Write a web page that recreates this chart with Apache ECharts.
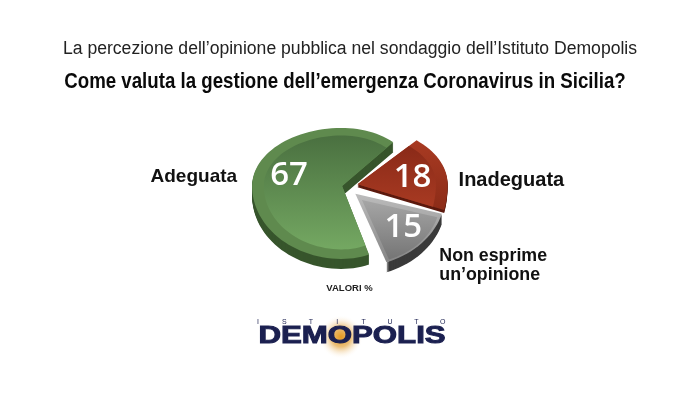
<!doctype html>
<html>
<head>
<meta charset="utf-8">
<title>Demopolis</title>
<style>html,body{margin:0;background:#fff}#main{width:700px;height:394px}</style>
</head>
<body>
<div id="main"></div>
<script src="https://cdn.jsdelivr.net/npm/echarts@6/dist/echarts.min.js"></script>
<script>
var categories = ['Inadeguata', 'Non esprime\nun\u2019opinione', 'Adeguata'];
var values = [18, 15, 67];
var subtitle = 'La percezione dell\u2019opinione pubblica nel sondaggio dell\u2019Istituto Demopolis';
var question = 'Come valuta la gestione dell\u2019emergenza Coronavirus in Sicilia?';
var unitNote = 'VALORI %';
var logoTop = ['I', 'S', 'T', 'I', 'T', 'U', 'T', 'O'];
var logoName = 'DEMOPOLIS';

// look of each slice, same order as categories
var sliceStyles = [
    {rim: '#a83a22', rimLow: '#8c2c18', top: '#8a2a18', bottom: '#a83a22', wall: '#5c1a0e', explode: 10, inset: 0,
        right: 90, down: 95, depth: 3, cutWall: true, num: [55, -7], label: [101, -4], align: 'left', labelSize: 20},
    {rim: '#bcbcbc', rimLow: '#858585', top: '#a6a6a6', bottom: '#757575', wall: '#3a3a3a', explode: 10, inset: 9,
        right: 90, down: 73, depth: 10, cutWall: false, num: [48, 34], label: [84, 72], align: 'left', labelSize: 17.8},
    {rim: '#5f8a4e', rimLow: '#5f8a4e', top: '#4a7040', bottom: '#74a862', wall: '#37552c', explode: 6, inset: 0,
        right: 78, down: 73, depth: 10, cutWall: true, num: [-53, -10], label: [-105, -9], align: 'right', labelSize: 19}
];
var center = [348, 187];
var radiusLeft = 90, radiusUp = 58;
var startDeg = -49;

function wedge(apex, from, to, scale, dy, st, withApex) {
    var pts = withApex ? [[apex[0], apex[1] + dy]] : [];
    var n = Math.ceil((to - from) / 3);
    for (var i = 0; i <= n; i++) {
        var a = (from + (to - from) * i / n) * Math.PI / 180;
        var c = Math.cos(a), s = Math.sin(a);
        pts.push([apex[0] + (c > 0 ? st.right : radiusLeft) * scale * c,
                  apex[1] + (s < 0 ? radiusUp : st.down) * scale * s + dy]);
    }
    return pts;
}

function vertical(a, b) {
    return {type: 'linear', x: 0, y: 0, x2: 0, y2: 1, colorStops: [{offset: 0, color: a}, {offset: 1, color: b}]};
}

function renderSlice(params, api) {
    var total = values.reduce(function (a, b) { return a + b; }, 0);
    var before = 0;
    for (var i = 0; i < params.dataIndex; i++) {
        before += values[i];
    }
    var value = api.value(0);
    var from = startDeg + before / total * 360;
    var to = from + value / total * 360;
    var mid = (from + to) / 2 * Math.PI / 180;
    var st = sliceStyles[params.dataIndex];
    var apex = [center[0] + st.explode * Math.cos(mid), center[1] + st.explode * Math.sin(mid)];
    var innerApex = [apex[0] + st.inset * Math.cos(mid), apex[1] + st.inset * Math.sin(mid)];
    var children = [];

    // wall: top face pushed down, every step so the cut edges fill in
    for (var d = st.depth; d > 0; d -= 1) {
        children.push({type: 'polygon', shape: {points: wedge(apex, from, to, 1, d, st, st.cutWall)}, style: {fill: st.wall}});
    }
    children.push({type: 'polygon', shape: {points: wedge(apex, from, to, 1, 0, st, true)}, style: {fill: vertical(st.rim, st.rimLow)}});
    children.push({
        type: 'polygon',
        shape: {points: wedge(innerApex, from, to, 0.87, 0, st, true)},
        style: {fill: vertical(st.top, st.bottom)}
    });
    children.push({
        type: 'text',
        style: {
            x: apex[0] + st.num[0], y: apex[1] + st.num[1], text: String(value),
            fill: '#fff', font: '600 33px "Open Sans"', align: 'center', verticalAlign: 'middle',
            shadowColor: 'rgba(0,0,0,0.7)', shadowBlur: 3, shadowOffsetX: 1, shadowOffsetY: 1
        }
    });
    children.push({
        type: 'text',
        style: {
            x: apex[0] + st.label[0], y: apex[1] + st.label[1], text: categories[params.dataIndex],
            fill: '#111', font: 'bold ' + st.labelSize + 'px "Liberation Sans"', align: st.align,
            verticalAlign: 'middle', lineHeight: 19
        }
    });
    return {type: 'group', children: children};
}

var graphics = [
    {type: 'text', x: 350, y: 49, style: {text: subtitle, font: '17.6px "Liberation Sans"', fill: '#222', align: 'center', verticalAlign: 'middle'}},
    {type: 'text', x: 345, y: 82, scaleX: 0.83, style: {text: question, font: 'bold 22.5px "Liberation Sans"', fill: '#0a0a0a', align: 'center', verticalAlign: 'middle'}},
    {type: 'text', x: 349.5, y: 288, style: {text: unitNote, font: 'bold 9.5px "Liberation Sans"', fill: '#222', align: 'center', verticalAlign: 'middle'}},
    {type: 'circle', shape: {cx: 341, cy: 337, r: 22}, style: {fill: {type: 'radial', x: 0.5, y: 0.5, r: 0.5, colorStops: [
        {offset: 0, color: '#e59a20'}, {offset: 0.45, color: '#ecc07a'}, {offset: 1, color: 'rgba(255,255,255,0)'}
    ]}}},
    {type: 'text', x: 352, y: 336, scaleX: 1.3, style: {text: logoName, font: '900 24px "Liberation Sans"', fill: '#1b2050', stroke: '#1b2050', lineWidth: 1, align: 'center', verticalAlign: 'middle'}}
];
logoTop.forEach(function (letter, i) {
    graphics.push({type: 'text', x: 258 + i * 26.4, y: 322, style: {text: letter, font: '7px "Liberation Sans"', fill: '#1b2050', align: 'center', verticalAlign: 'middle'}});
});

var chart = echarts.init(document.getElementById('main'));
chart.setOption({
    backgroundColor: '#fff',
    animation: false,
    graphic: graphics,
    series: [{
        type: 'custom',
        coordinateSystem: 'none',
        silent: true,
        renderItem: renderSlice,
        data: values.map(function (v) { return [v]; })
    }]
});
window.addEventListener('resize', function () {
    chart.resize();
});
</script>
</body>
</html>
